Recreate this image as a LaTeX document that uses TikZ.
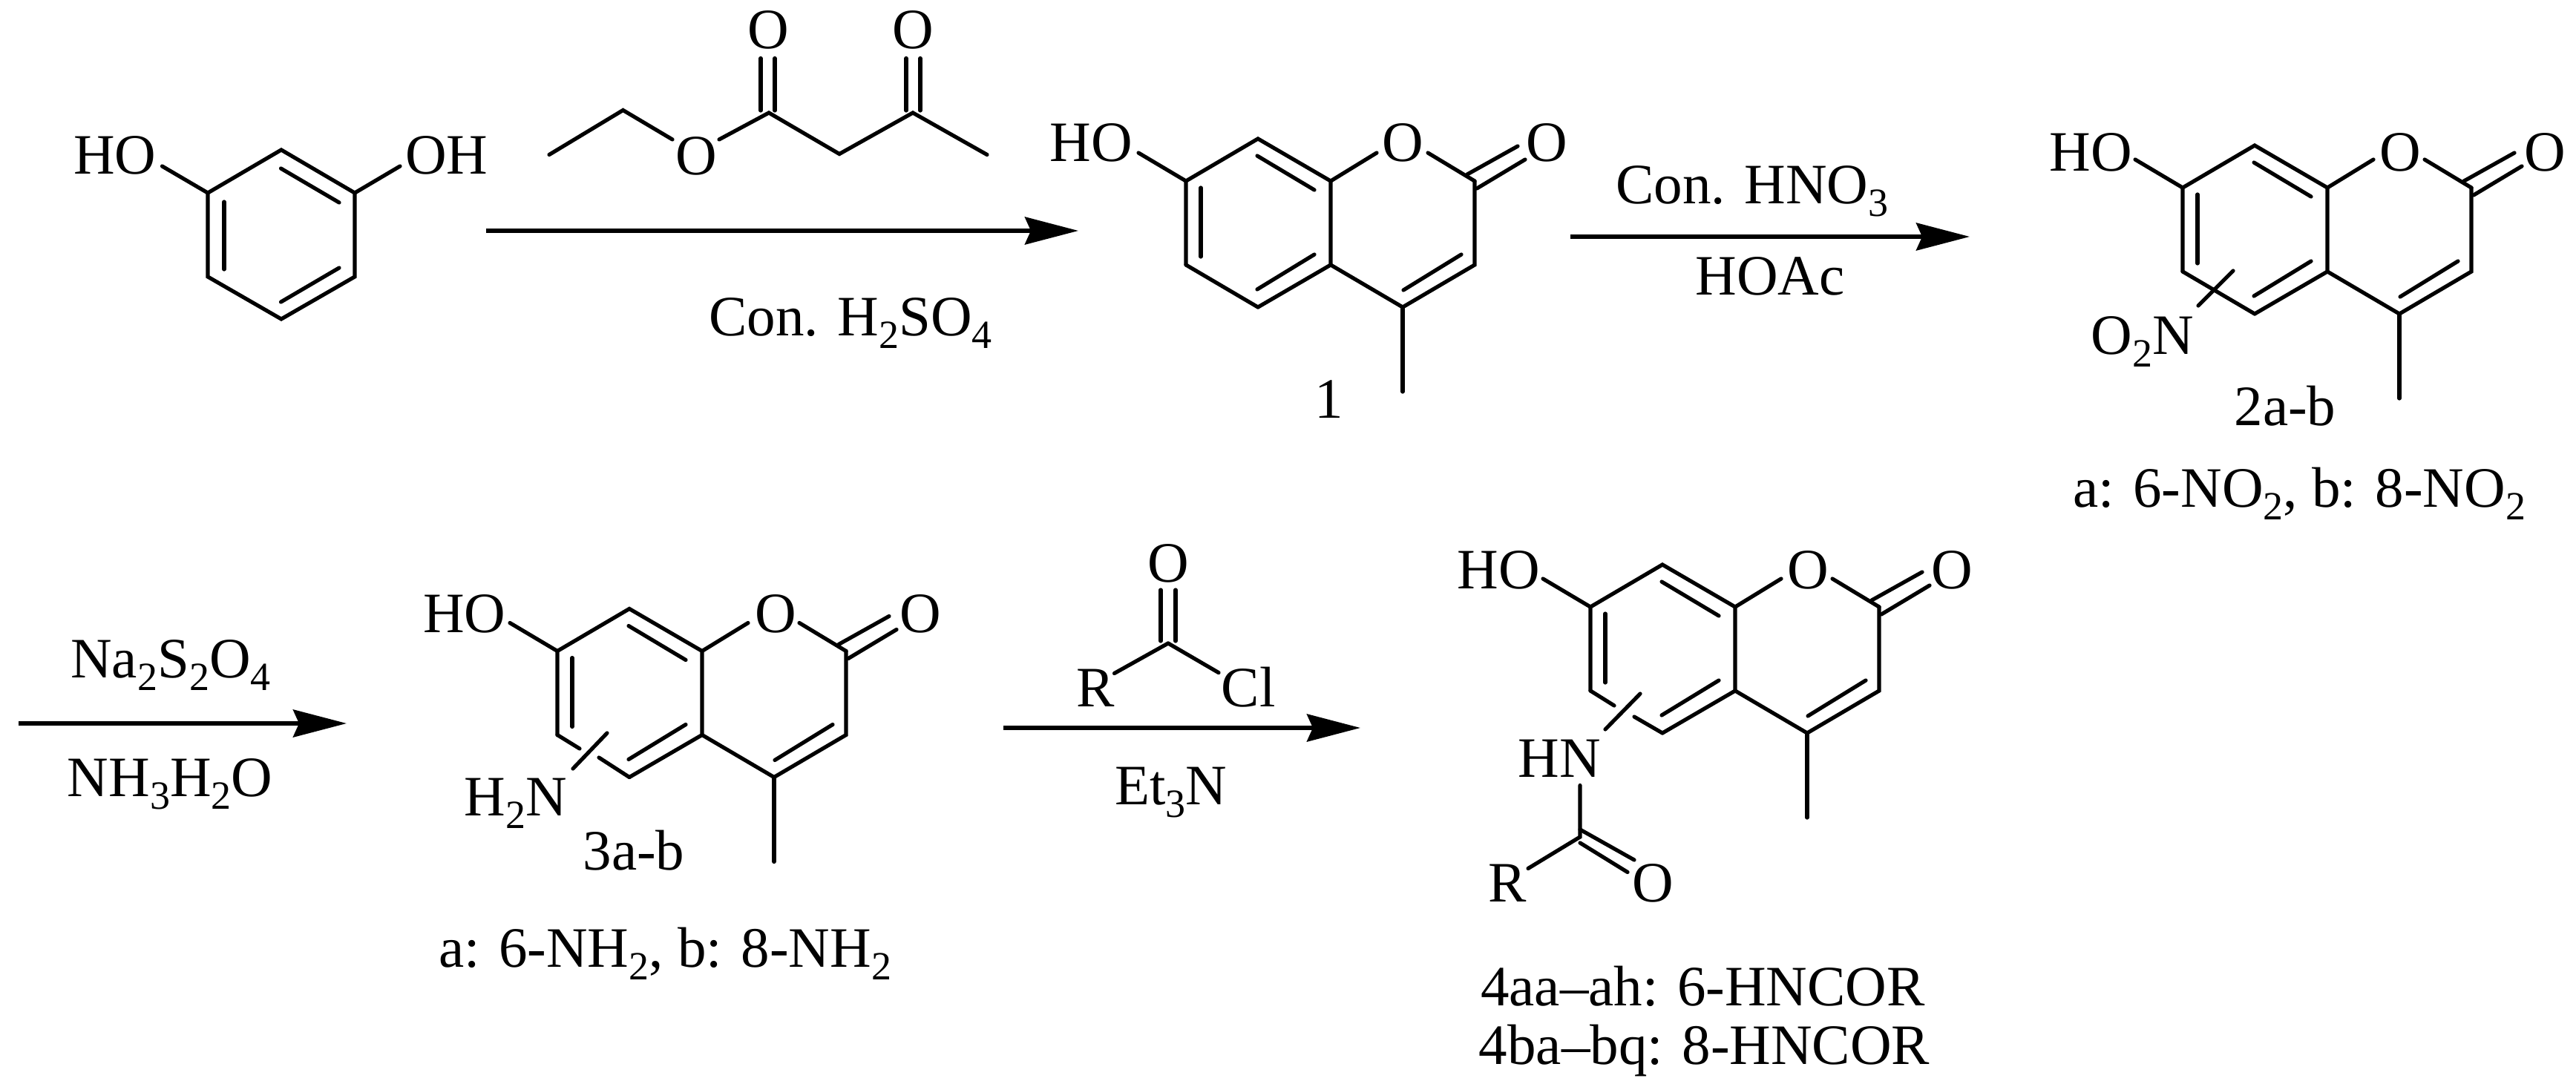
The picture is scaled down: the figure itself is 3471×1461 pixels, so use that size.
\documentclass[tikz,border=0pt]{standalone}
\usepackage{fontspec}
\setmainfont{Liberation Serif}
\usetikzlibrary{arrows.meta}
\newcommand\lowr[1]{\raisebox{-17pt}{\fontsize{54}{54}\selectfont #1}}
\newcommand\tfont{\fontsize{77}{90}\selectfont}
\tikzset{
  bond/.style={line width=5.2pt,line cap=round,line join=miter,black},
  lab/.style={anchor=base,inner sep=0pt,outer sep=0pt,font=\tfont,text=black},
  rxn/.style={line width=5.5pt,-{Stealth[length=72pt,width=37pt,inset=8pt]},black}
}
% coumarin skeleton: name prefix, position of C7. The C6-C5 edge is drawn separately.
\newcommand\coumarin[3]{%
  \begin{scope}[shift={(#2,#3)}]
    \coordinate (#1C7) at (0,0);
    \coordinate (#1C8) at (97,-57);
    \coordinate (#1C8a) at (195,0);
    \coordinate (#1C4a) at (195,113);
    \coordinate (#1C5) at (97,170);
    \coordinate (#1C6) at (0,113);
    \coordinate (#1C4) at (292,170);
    \coordinate (#1C3) at (389,113);
    \coordinate (#1C2) at (389,0);
    \coordinate (#1Me) at (292,284);
    \draw[bond] (#1C6) -- (#1C7) -- (#1C8) -- (#1C8a) -- (#1C4a) -- (#1C5);
    \draw[bond] (#1C4a) -- (#1C4) -- (#1C3) -- (#1C2);
    \draw[bond] (#1C4) -- (#1Me);
    \draw[bond] (#1C8a) -- (257,-38);
    \draw[bond] (326,-38) -- (#1C2);
    \draw[bond] (#1C7) -- (-64,-38);
    \draw[bond] (379,-9) -- (447,-47);
    \draw[bond] (392,10) -- (457,-29);
    \draw[bond] (20,9) -- (20,102);
    \draw[bond] (96,-34) -- (173,12);
    \draw[bond] (173,99) -- (96,146);
    \draw[bond] (371,99) -- (293,147);
  \end{scope}}
\begin{document}
\begin{tikzpicture}[x=1pt,y=-1pt]
\useasboundingbox (0,0) rectangle (3471,1461);

% resorcinol
\coordinate (rT) at (379,202); \coordinate (rUR) at (478,260); \coordinate (rLR) at (478,373);
\coordinate (rB) at (379,430); \coordinate (rLL) at (280,373); \coordinate (rUL) at (280,260);
\draw[bond] (rT) -- (rUR) -- (rLR) -- (rB) -- (rLL) -- (rUL) -- cycle;
\draw[bond] (302,272) -- (302,363);
\draw[bond] (378.5,227) -- (457,273);
\draw[bond] (457,361) -- (378.5,407);
\node[lab] (rHO) at (155,234) {HO};
\node[lab] (rOH) at (602,234) {OH};
\draw[bond] (rUL) -- (218.5,224);
\draw[bond] (rUR) -- (539,224);

% ethyl acetoacetate
\node[lab] (eO) at (938,235) {O};
\node[lab] (eO1) at (1035,66) {O};
\node[lab] (eO2) at (1230,66) {O};
\draw[bond] (740,208.5) -- (839.5,148.5) -- (906,188);
\draw[bond] (969,188) -- (1036,152) -- (1131,207.5) -- (1230,152) -- (1330,208.5);
\draw[bond] (1025,78.5) -- (1025,149);
\draw[bond] (1044,78.5) -- (1044,149);
\draw[bond] (1221,78.5) -- (1221,149);
\draw[bond] (1240,78.5) -- (1240,149);

% arrow 1
\coordinate (a1s) at (655,311); \coordinate (a1e) at (1453,311);
\draw[rxn] (a1s) -- (a1e);
\node[lab] (c1) at (1146,452) {Con. H\lowr{2}SO\lowr{4}};

% compound 1
\coumarin{A}{1598}{244}
\draw[bond] (AC6) -- (AC5);
\node[lab] (aHO) at (1470,217) {HO};
\node[lab] (aO1) at (1890,217) {O};
\node[lab] (aO2) at (2084,217) {O};
\node[lab] (aN) at (1791,563) {1};

% arrow 2
\coordinate (a2s) at (2116,319); \coordinate (a2e) at (2654,319);
\draw[rxn] (a2s) -- (a2e);
\node[lab] (c2) at (2361,274) {Con. HNO\lowr{3}};
\node[lab] (c3) at (2385,397) {HOAc};

% compound 2
\coumarin{B}{2941}{253}
\draw[bond] (BC6) -- (BC5);
\draw[bond] (3009,365) -- (2962,412);
\node[lab] (bHO) at (2817,230) {HO};
\node[lab] (bO1) at (3234,230) {O};
\node[lab] (bO2) at (3429,230) {O};
\node[lab] (bN) at (2887,477.5) {O\lowr{2}N};
\node[lab] (bT) at (3079,573) {2a-b};
\node[lab] (bS) at (3098,683) {a: 6-NO\lowr{2}, b: 8-NO\lowr{2}};

% arrow 3
\coordinate (a3s) at (25,975); \coordinate (a3e) at (467,975);
\draw[rxn] (a3s) -- (a3e);
\node[lab] (c4) at (230,913) {Na\lowr{2}S\lowr{2}O\lowr{4}};
\node[lab] (c5) at (229,1073) {NH\lowr{3}H\lowr{2}O};

% compound 3
\coumarin{C}{751}{877.5}
\draw[bond] (CC6) -- (781,1009);
\draw[bond] (807,1021) -- (CC5);
\draw[bond] (818,988) -- (772,1036);
\node[lab] (cHO) at (626,852) {HO};
\node[lab] (cO1) at (1045,852) {O};
\node[lab] (cO2) at (1240,852) {O};
\node[lab] (cN) at (695,1099) {H\lowr{2}N};
\node[lab] (cT) at (854,1172) {3a-b};
\node[lab] (cS) at (896,1303.5) {a: 6-NH\lowr{2}, b: 8-NH\lowr{2}};

% acid chloride
\coordinate (kC) at (1574,867);
\draw[bond] (kC) -- (1501.5,907.5);
\draw[bond] (kC) -- (1642,906.6);
\draw[bond] (1564,795) -- (1564,864);
\draw[bond] (1584,795) -- (1584,864);
\node[lab] (kO) at (1574,784) {O};
\node[lab] (kR) at (1476,952) {R};
\node[lab] (kCl) at (1682,952) {Cl};

% arrow 4
\coordinate (a4s) at (1352,981); \coordinate (a4e) at (1833,981);
\draw[rxn] (a4s) -- (a4e);
\node[lab] (c6) at (1578,1084) {Et\lowr{3}N};

% compound 4
\coumarin{D}{2143}{818}
\draw[bond] (DC6) -- (2175,951);
\draw[bond] (2202,966) -- (DC5);
\draw[bond] (2210,935) -- (2163,983);
\draw[bond] (2129,1058.5) -- (2129,1128) -- (2059,1170.5);
\draw[bond] (2129,1118) -- (2202,1159);
\draw[bond] (2129,1136) -- (2193,1175.5);
\node[lab] (dHO) at (2019,793) {HO};
\node[lab] (dO1) at (2436,793) {O};
\node[lab] (dO2) at (2630,793) {O};
\node[lab] (dN) at (2101,1047.5) {HN};
\node[lab] (dR) at (2031,1215) {R};
\node[lab] (dO3) at (2227,1215) {O};
\node[lab] (dS1) at (2294.5,1355) {4aa–ah: 6-HNCOR};
\node[lab] (dS2) at (2296.5,1434.5) {4ba–bq: 8-HNCOR};
\end{tikzpicture}
\end{document}
